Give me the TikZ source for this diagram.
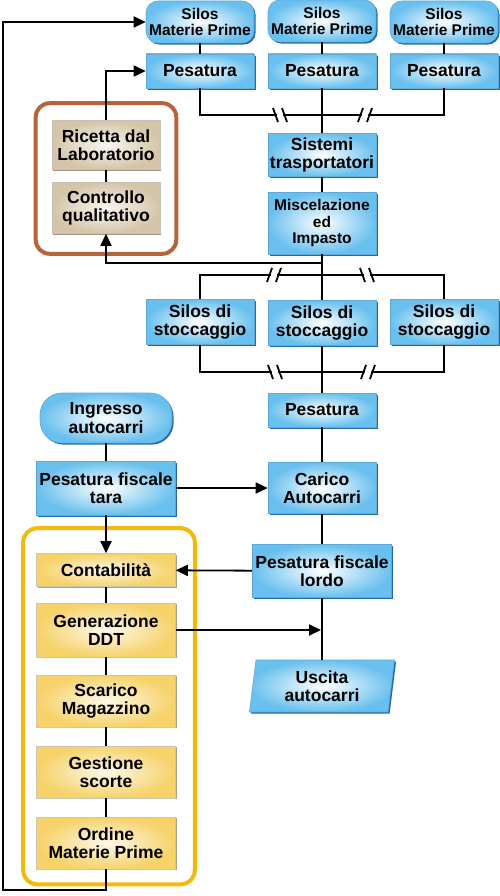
\documentclass[tikz,border=0pt]{standalone}
\usepackage{fontspec}
\setmainfont{Liberation Sans}
\usetikzlibrary{arrows.meta,shapes.geometric,shadows,backgrounds,fit,calc}

\definecolor{boxblue}{RGB}{105,192,238}
\definecolor{edgeblue}{RGB}{95,170,220}
\definecolor{shadeblue}{RGB}{35,105,170}
\definecolor{boxyellow}{RGB}{246,210,105}
\definecolor{shadeyellow}{RGB}{170,160,130}
\definecolor{boxbeige}{RGB}{212,197,168}
\definecolor{shadebeige}{RGB}{160,150,135}
\definecolor{framebrown}{RGB}{184,100,58}
\definecolor{frameyellow}{RGB}{242,186,12}

\tikzset{
  txt/.style={align=center, inner sep=1pt, font=\bfseries\fontsize{17.5}{18.5}\selectfont},
  smalltxt/.style={font=\bfseries\fontsize{15.5}{16.5}\selectfont},
  blubox/.style={txt, rectangle, draw=edgeblue, line width=0.6pt,
    inner color=white, outer color=boxblue,
    drop shadow={shadow xshift=1.6pt, shadow yshift=-1.6pt, fill=shadeblue, opacity=1},
    minimum width=108},
  ylwbox/.style={txt, rectangle, draw=shadeyellow!60, line width=0.6pt,
    inner color=white!85!boxyellow, outer color=boxyellow,
    drop shadow={shadow xshift=1.4pt, shadow yshift=-1.4pt, fill=shadeyellow, opacity=1},
    minimum width=139},
  bgebox/.style={txt, rectangle, draw=shadebeige!60, line width=0.6pt,
    inner color=white!85!boxbeige, outer color=boxbeige,
    drop shadow={shadow xshift=1.4pt, shadow yshift=-1.4pt, fill=shadebeige, opacity=1},
    minimum width=108},
  frame/.style={rounded corners=14pt, line width=4pt},
  brk/.pic={
    \fill[white] (-3,-8) rectangle (3,8);
    \draw (-7,-7) -- (-2,7) (2,-7) -- (7,7);
  }
}

\begin{document}
\begin{tikzpicture}[x=1pt, y=-1pt, line width=1.8pt, >={Triangle[length=12pt,width=11pt]}]
  \useasboundingbox (0,0) rectangle (500,896);

  % raw materials
  \node[blubox, smalltxt, rounded corners=12pt, minimum height=42] at (200,22) (silA) {Silos\\Materie Prime};
  \node[blubox, smalltxt, rounded corners=12pt, minimum height=42] at (322,21) (silB) {Silos\\Materie Prime};
  \node[blubox, smalltxt, rounded corners=12pt, minimum height=42] at (444,22) (silC) {Silos\\Materie Prime};

  \node[blubox, minimum height=34] at (200,71) (pesA) {Pesatura};
  \node[blubox, minimum height=34] at (322,71) (pesB) {Pesatura};
  \node[blubox, minimum height=34] at (444,71) (pesC) {Pesatura};

  \node[blubox, minimum height=43] at (322,155) (sis) {Sistemi\\trasportatori};
  \node[blubox, smalltxt, minimum height=62] at (322,223) (mix) {Miscelazione\\ed\\Impasto};

  \node[blubox, minimum height=45] at (200,322) (stoA) {Silos di\\stoccaggio};
  \node[blubox, minimum height=45] at (322,323) (stoB) {Silos di\\stoccaggio};
  \node[blubox, minimum height=45] at (444,322) (stoC) {Silos di\\stoccaggio};

  \node[blubox, minimum height=34] at (322,410) (pesD) {Pesatura};
  \node[blubox, minimum height=51] at (322,488) (car) {Carico\\Autocarri};
  \node[blubox, minimum width=139, minimum height=53] at (322,571) (lordo) {Pesatura fiscale\\lordo};
  \node[blubox, trapezium, trapezium left angle=79, trapezium right angle=101,
        trapezium stretches body, minimum width=145, minimum height=52] at (322,686) (usc) {Uscita\\autocarri};

  % trucks
  \node[blubox, rounded corners=22pt, minimum width=132, minimum height=50] at (106,418) (ingr) {Ingresso\\autocarri};
  \node[blubox, minimum width=139, minimum height=54] at (106,488) (tara) {Pesatura fiscale\\tara};

  % office
  \node[ylwbox, minimum height=33] at (106,570) (cont) {Contabilità};
  \node[ylwbox, minimum height=54] at (106,630) (gen) {Generazione\\DDT};
  \node[ylwbox, minimum height=52] at (106,701) (scar) {Scarico\\Magazzino};
  \node[ylwbox, minimum height=52] at (106,772) (gest) {Gestione\\scorte};
  \node[ylwbox, minimum height=52] at (106,843) (ord) {Ordine\\Materie Prime};

  % laboratory
  \node[bgebox, minimum height=49] at (106,145) (ric) {Ricetta dal\\Laboratorio};
  \node[bgebox, minimum height=51] at (106,208) (ctrl) {Controllo\\qualitativo};

  \coordinate (jt) at (322,115);
  \coordinate (jm) at (322,263);
  \coordinate (js) at (322,275);
  \coordinate (jb) at (322,372);
  \coordinate (loop) at (3,890);

  \draw (silA) -- (pesA);
  \draw (silB) -- (pesB);
  \draw (silC) -- (pesC);
  \draw (pesA) |- (jt) -| (pesC);
  \draw (pesB) -- (sis);
  \draw (sis) -- (mix);
  \draw (mix) -- (stoB);
  \draw[->] (jm) -| (ctrl);
  \draw (stoA) |- (js) -| (stoC);
  \draw (stoA) |- (jb) -| (stoC);
  \draw (stoB) -- (pesD);
  \draw (pesD) -- (car);
  \draw (car) -- (lordo);
  \draw (lordo) -- (usc);

  \draw (ingr) -- (tara);
  \draw[->] (tara) -- (car);
  \draw[->] (tara) -- (cont);
  \draw[->] (lordo) -- (cont);
  \draw[->] (gen.east) -- ($(gen.east -| lordo.south)+(-1,0)$);
  \draw (cont) -- (gen);
  \draw (gen) -- (scar);
  \draw (scar) -- (gest);
  \draw (gest) -- (ord);
  \draw[->] (ord.south) |- (loop) |- (silA.west);

  \draw (ric) -- (ctrl);
  \draw[->] (ric.north) |- (pesA.west);

  % line breaks
  \pic at (280,115) {brk};
  \pic[xscale=-1] at (365,115) {brk};
  \pic[xscale=-1] at (274,275) {brk};
  \pic at (367,275) {brk};
  \pic at (275,372) {brk};
  \pic[xscale=-1] at (368,372) {brk};

  \begin{pgfonlayer}{background}
    \node[frame, draw=framebrown, inner sep=0pt,
          fit={($(ric.north west)+(-16,-17)$) ($(ctrl.south east)+(16,20)$)}] (lab) {};
    \node[frame, draw=frameyellow, inner sep=0pt,
          fit={($(cont.north west)+(-13,-25)$) ($(ord.south east)+(19,15)$)}] (office) {};
  \end{pgfonlayer}
\end{tikzpicture}
\end{document}
